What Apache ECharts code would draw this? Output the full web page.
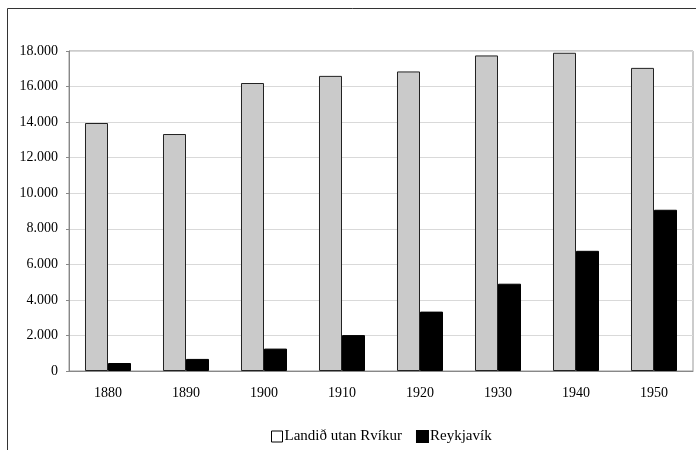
<!DOCTYPE html>
<html>
<head>
<meta charset="utf-8">
<script src="https://cdn.jsdelivr.net/npm/echarts@6/dist/echarts.min.js"></script>
<style>
html,body{margin:0;padding:0;background:#fff;}
#c{width:696px;height:450px;}
</style>
</head>
<body>
<div id="c"></div>
<script>
const categories = ['1880','1890','1900','1910','1920','1930','1940','1950'];
const landid = [13950, 13330, 16200, 16600, 16850, 17750, 17900, 17050];
const reykjavik = [450, 680, 1260, 2020, 3340, 4910, 6760, 9070];
const seriesNames = ['Landið utan Rvíkur', 'Reykjavík'];

const chart = echarts.init(document.getElementById('c'));
const font = '"Liberation Serif", "DejaVu Serif", serif';
chart.setOption({
  animation: false,
  textStyle: {fontFamily: font},
  graphic: [{
    type: 'rect', silent: true,
    shape: {x: 7.5, y: 8.5, width: 800, height: 800},
    style: {fill: 'none', stroke: '#333', lineWidth: 1}
  }],
  grid: {left: 69, right: 3, top: 51, bottom: 79, show: true, borderColor: '#999', borderWidth: 1},
  legend: {
    data: [
      {name: seriesNames[0], itemStyle: {color: '#fff', borderColor: '#000', borderWidth: 1}},
      {name: seriesNames[1]}
    ],
    left: 266, top: 424,
    icon: 'rect', itemWidth: 11, itemHeight: 11, itemGap: 14,
    textStyle: {fontFamily: font, fontSize: 15, color: '#000', padding: [0,0,0,-3]}
  },
  xAxis: {
    type: 'category', data: categories,
    axisLine: {lineStyle: {color: '#888'}},
    axisTick: {length: 4, lineStyle: {color: '#888'}},
    axisLabel: {color: '#000', fontFamily: font, fontSize: 14, margin: 15}
  },
  yAxis: {
    type: 'value', min: 0, max: 18000, interval: 2000,
    axisLine: {show: true, lineStyle: {color: '#888'}},
    axisTick: {show: true, length: 3, lineStyle: {color: '#888'}},
    splitLine: {lineStyle: {color: '#d9d9d9'}},
    axisLabel: {
      color: '#000', fontFamily: font, fontSize: 14, margin: 11,
      formatter: v => v === 0 ? '0' : String(v).replace(/\B(?=(\d{3})+(?!\d))/g, '.')
    }
  },
  series: [
    {name: seriesNames[0], type: 'bar', data: landid, barGap: '0%', barCategoryGap: '41%',
     itemStyle: {color: '#cacaca', borderColor: '#222', borderWidth: 1}},
    {name: seriesNames[1], type: 'bar', data: reykjavik,
     itemStyle: {color: '#000', borderColor: '#000', borderWidth: 1}}
  ]
});
</script>
</body>
</html>
